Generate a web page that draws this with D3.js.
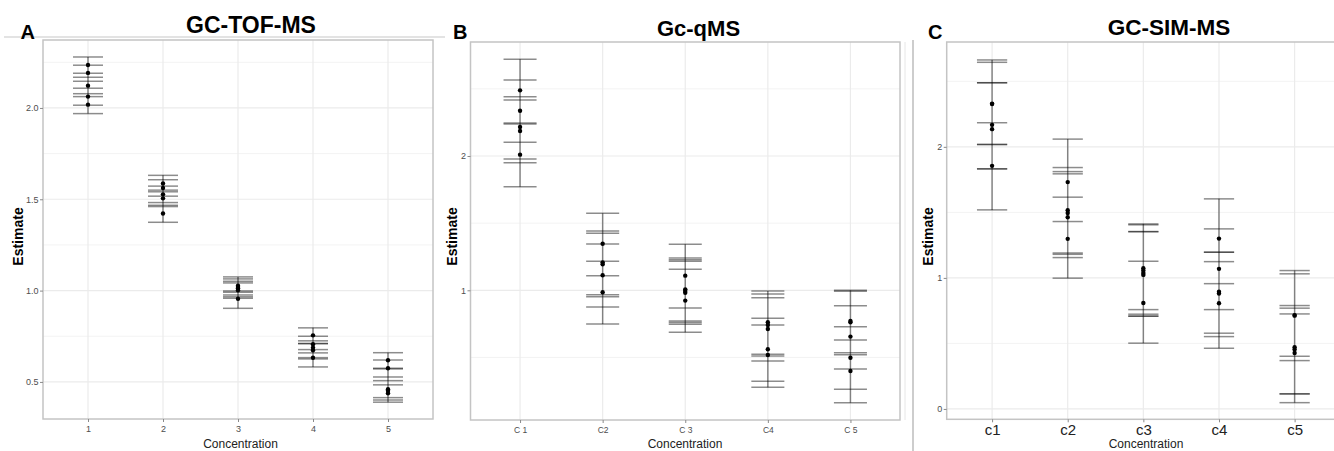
<!DOCTYPE html>
<html>
<head>
<meta charset="utf-8">
<script src="https://cdn.jsdelivr.net/npm/d3@7"></script>
<style>
  body { margin: 0; background: #fff; }
  svg { display: block; font-family: "Liberation Sans", Arial, sans-serif; }
</style>
</head>
<body>
<svg id="chart" width="1334" height="451"></svg>
<script>
// ---- data ----
var tofCats = ['1', '2', '3', '4', '5'];
var tofEst = [[2.235, 2.192, 2.122, 2.062, 2.018], [1.586, 1.562, 1.527, 1.505, 1.422], [1.027, 1.020, 1.013, 1.002, 0.955], [0.755, 0.706, 0.688, 0.673, 0.632], [0.619, 0.575, 0.460, 0.452, 0.438]];
var tofHi  = [[2.279, 2.234, 2.168, 2.108, 2.062], [1.631, 1.607, 1.572, 1.550, 1.467], [1.075, 1.064, 1.051, 1.042, 0.998], [0.796, 0.750, 0.725, 0.710, 0.677], [0.660, 0.620, 0.507, 0.571, 0.484]];
var tofLo  = [[2.190, 2.146, 2.078, 2.015, 1.969], [1.541, 1.517, 1.482, 1.460, 1.374], [0.991, 0.976, 0.966, 0.958, 0.903], [0.710, 0.659, 0.633, 0.626, 0.582], [0.575, 0.527, 0.414, 0.401, 0.389]];

var qmsCats = ['C 1', 'C2', 'C 3', 'C4', 'C 5'];
var qmsEst = [[2.489, 2.337, 2.216, 2.186, 2.010], [1.347, 1.208, 1.194, 1.112, 0.985], [1.109, 1.007, 0.995, 0.982, 0.923], [0.762, 0.742, 0.712, 0.561, 0.518], [0.771, 0.762, 0.655, 0.498, 0.399]];
var qmsHi  = [[2.720, 2.566, 2.442, 2.417, 2.238], [1.573, 1.442, 1.424, 1.345, 1.216], [1.343, 1.240, 1.228, 1.216, 1.156], [0.995, 0.972, 0.945, 0.792, 0.742], [1.000, 0.993, 0.885, 0.729, 0.630]];
var qmsLo  = [[2.246, 2.102, 1.978, 1.950, 1.771], [1.109, 0.967, 0.952, 0.876, 0.749], [0.868, 0.771, 0.760, 0.747, 0.687], [0.523, 0.511, 0.474, 0.322, 0.278], [0.535, 0.520, 0.414, 0.263, 0.163]];

var simCats = ['c1', 'c2', 'c3', 'c4', 'c5'];
var simEst = [[2.326, 2.330, 2.168, 2.135, 1.855], [1.731, 1.517, 1.495, 1.463, 1.298], [1.074, 1.056, 1.038, 1.023, 0.809], [1.300, 1.069, 0.895, 0.880, 0.807], [0.712, 0.716, 0.471, 0.453, 0.427]];
var simHi  = [[2.663, 2.645, 2.489, 2.489, 2.184], [2.059, 1.842, 1.811, 1.794, 1.616], [1.412, 1.405, 1.353, 1.353, 1.127], [1.603, 1.374, 1.196, 1.196, 1.124], [1.056, 1.031, 0.789, 0.769, 0.725]];
var simLo  = [[2.018, 2.018, 1.832, 1.832, 1.519], [1.430, 1.190, 1.180, 1.155, 0.998], [0.758, 0.723, 0.708, 0.708, 0.502], [0.956, 0.758, 0.578, 0.552, 0.463], [0.369, 0.402, 0.115, 0.115, 0.048]];

var tofTicks = [0.5, 1.0, 1.5, 2.0], tofMinor = [0.75, 1.25, 1.75, 2.25];
var qmsTicks = [1, 2], qmsMinor = [0.5, 1.5, 2.5];
var simTicks = [0, 1, 2], simMinor = [0.5, 1.5, 2.5];

// ---- layout ----
var panels = [
  { letter: 'A', title: 'GC-TOF-MS', cats: tofCats, est: tofEst, lo: tofLo, hi: tofHi,
    ticks: tofTicks, minor: tofMinor, fmt: d3.format('.1f'), yDomain: [0.297, 2.372],
    box: { x0: 43, x1: 433, y0: 40, y1: 419 }, titleX: 251, titleY: 33, titleSize: 23,
    letterX: 20.5, ylabX: 23, xlabX: 240.5, xTickSize: 9 },
  { letter: 'B', title: 'Gc-qMS', cats: qmsCats, est: qmsEst, lo: qmsLo, hi: qmsHi,
    ticks: qmsTicks, minor: qmsMinor, fmt: d3.format('d'), yDomain: [0.034, 2.849],
    box: { x0: 470.5, x1: 900, y0: 42, y1: 420 }, titleX: 698.5, titleY: 35.5, titleSize: 22,
    letterX: 453, ylabX: 457, xlabX: 685, xTickSize: 8.5 },
  { letter: 'C', title: 'GC-SIM-MS', cats: simCats, est: simEst, lo: simLo, hi: simHi,
    ticks: simTicks, minor: simMinor, fmt: d3.format('d'), yDomain: [-0.079, 2.80],
    box: { x0: 946.7, x1: 1340, y0: 42, y1: 419.3 }, titleX: 1169, titleY: 35, titleSize: 22.5,
    letterX: 928, ylabX: 933, xlabX: 1146, xTickSize: 15 }
];

var svg = d3.select('#chart');

// stray frame lines from the composed figure
svg.append('line').attr('x1', 4).attr('x2', 445).attr('y1', 37).attr('y2', 37)
  .attr('stroke', '#c8c8c8').attr('stroke-width', 1.2);
svg.append('line').attr('x1', 913).attr('x2', 913).attr('y1', 40).attr('y2', 451)
  .attr('stroke', '#bdbdbd').attr('stroke-width', 1.5);
svg.append('line').attr('x1', 905).attr('x2', 905).attr('y1', 42).attr('y2', 420)
  .attr('stroke', '#e6e6e6').attr('stroke-width', 1);

panels.forEach(function(p){
  var b = p.box;
  var g = svg.append('g');

  var x = d3.scalePoint().domain(p.cats).range([b.x0, b.x1]).padding(0.6);
  var y = d3.scaleLinear().domain(p.yDomain).range([b.y1, b.y0]);
  var step = x.step();

  // grid
  g.selectAll('.minor').data(p.minor).enter().append('line')
    .attr('x1', b.x0).attr('x2', b.x1)
    .attr('y1', function(d){ return y(d); }).attr('y2', function(d){ return y(d); })
    .attr('stroke', '#f3f3f3').attr('stroke-width', 1);
  g.selectAll('.major').data(p.ticks).enter().append('line')
    .attr('x1', b.x0).attr('x2', b.x1)
    .attr('y1', function(d){ return y(d); }).attr('y2', function(d){ return y(d); })
    .attr('stroke', '#ebebeb').attr('stroke-width', 1.2);
  g.selectAll('.vgrid').data(p.cats).enter().append('line')
    .attr('x1', function(d){ return x(d); }).attr('x2', function(d){ return x(d); })
    .attr('y1', b.y0).attr('y2', b.y1)
    .attr('stroke', '#ebebeb').attr('stroke-width', 1.2);

  // error bars
  p.cats.forEach(function(c, i){
    var cx = x(c);
    var bars = g.append('g');
    bars.append('line')
      .attr('x1', cx).attr('x2', cx)
      .attr('y1', y(d3.min(p.lo[i]))).attr('y2', y(d3.max(p.hi[i])))
      .attr('stroke', '#000').attr('stroke-opacity', 0.45).attr('stroke-width', 1.5);
    var caps = p.lo[i].concat(p.hi[i]);
    bars.selectAll('.cap').data(caps).enter().append('line')
      .attr('x1', cx - step * 0.2).attr('x2', cx + step * 0.2)
      .attr('y1', function(d){ return y(d); }).attr('y2', function(d){ return y(d); })
      .attr('stroke', '#000').attr('stroke-opacity', 0.45).attr('stroke-width', 1.5);
    bars.selectAll('.pt').data(p.est[i]).enter().append('circle')
      .attr('cx', cx).attr('cy', function(d){ return y(d); })
      .attr('r', 2.2).attr('fill', '#000');
  });

  // border
  g.append('rect').attr('x', b.x0).attr('y', b.y0)
    .attr('width', b.x1 - b.x0).attr('height', b.y1 - b.y0)
    .attr('fill', 'none').attr('stroke', '#c4c4c4').attr('stroke-width', 1.5);

  // axes
  var ya = g.append('g').attr('transform', 'translate(' + b.x0 + ',0)')
    .call(d3.axisLeft(y).tickValues(p.ticks).tickFormat(p.fmt).tickSize(3).tickPadding(1.5));
  ya.select('.domain').remove();
  ya.selectAll('line').attr('stroke', '#8a8a8a');
  ya.selectAll('text').attr('font-size', 9).attr('fill', '#4d4d4d');

  var xa = g.append('g').attr('transform', 'translate(0,' + b.y1 + ')')
    .call(d3.axisBottom(x).tickSize(3).tickPadding(p.xTickSize > 12 ? 2 : 4));
  xa.select('.domain').remove();
  xa.selectAll('line').attr('stroke', '#8a8a8a');
  xa.selectAll('text').attr('font-size', p.xTickSize).attr('fill', p.xTickSize > 12 ? '#222' : '#4d4d4d');

  // labels
  g.append('text').attr('x', p.titleX).attr('y', p.titleY)
    .attr('text-anchor', 'middle').attr('font-weight', 'bold')
    .attr('font-size', p.titleSize).attr('fill', '#000').text(p.title);
  g.append('text').attr('x', p.letterX).attr('y', 39.3)
    .attr('font-weight', 'bold').attr('font-size', 20).attr('fill', '#000').text(p.letter);
  g.append('text').attr('transform', 'translate(' + p.ylabX + ',236.5) rotate(-90)')
    .attr('text-anchor', 'middle').attr('font-weight', 'bold')
    .attr('font-size', 14).attr('fill', '#000').text('Estimate');
  g.append('text').attr('x', p.xlabX).attr('y', 447.5)
    .attr('text-anchor', 'middle').attr('font-size', 12).attr('fill', '#222')
    .text('Concentration');
});
</script>
</body>
</html>
